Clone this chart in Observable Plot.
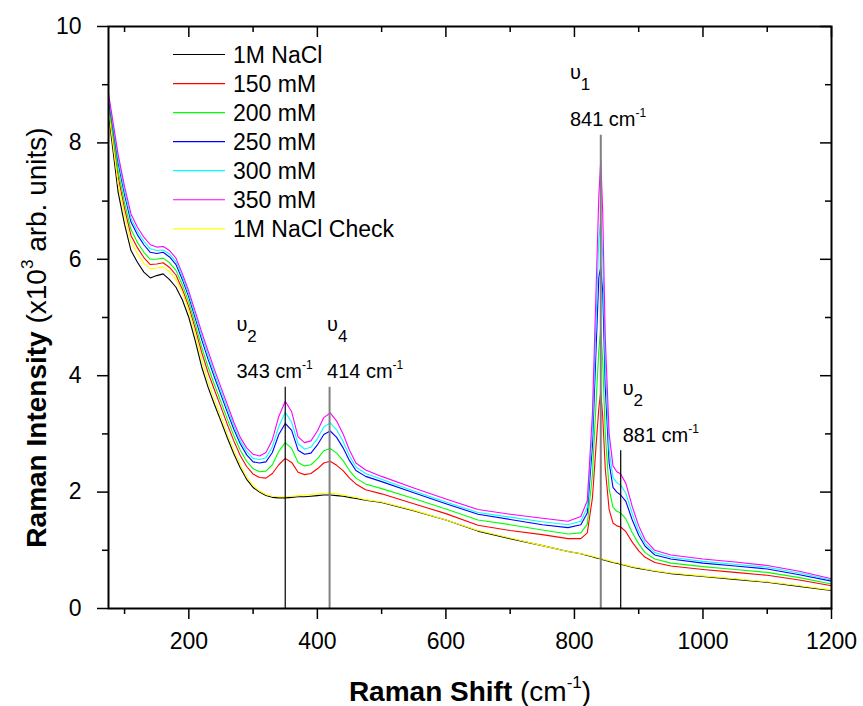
<!DOCTYPE html>
<html><head><meta charset="utf-8">
<script src="https://cdn.jsdelivr.net/npm/d3@7"></script>
<script src="https://cdn.jsdelivr.net/npm/@observablehq/plot@0.6"></script>
<style>body{margin:0;background:#fff} svg text{white-space:pre}</style>
</head><body><div id="chart"></div>
<script>
// Raman shift (cm-1)
const shift = [75, 80, 90, 100, 110, 120, 130, 140, 150, 160,
 170, 180, 190, 200, 210, 220, 230, 240, 250, 260,
 270, 280, 290, 300, 310, 320, 330, 340, 350, 360,
 370, 380, 390, 400, 410, 420, 430, 440, 450, 460,
 475, 500, 550, 600, 650, 700, 750, 790, 810, 820,
 828, 834, 838, 841, 844, 848, 854, 860, 866, 872,
 880, 890, 900, 910, 925, 950, 1000, 1050, 1100, 1150,
 1200];
// Raman intensity (x10^3 arb. units)
const nacl = [8.50, 8.05, 7.15, 6.60, 6.15, 5.95, 5.78, 5.68, 5.72, 5.75,
 5.65, 5.52, 5.30, 5.00, 4.60, 4.15, 3.80, 3.50, 3.22, 2.93,
 2.66, 2.42, 2.22, 2.08, 2.00, 1.94, 1.91, 1.90, 1.90, 1.91,
 1.92, 1.92, 1.93, 1.94, 1.95, 1.95, 1.94, 1.93, 1.91, 1.89,
 1.86, 1.82, 1.68, 1.52, 1.33, 1.20, 1.08, 0.98, 0.94, 0.91,
 0.89, 0.87, 0.86, 0.85, 0.84, 0.83, 0.81, 0.79, 0.78, 0.76,
 0.74, 0.71, 0.69, 0.67, 0.64, 0.60, 0.55, 0.50, 0.45, 0.38,
 0.31];
const mM150 = [8.64, 8.23, 7.42, 6.87, 6.41, 6.20, 6.03, 5.91, 5.92, 5.94,
 5.86, 5.73, 5.48, 5.18, 4.81, 4.40, 4.05, 3.75, 3.46, 3.16,
 2.88, 2.63, 2.44, 2.31, 2.25, 2.24, 2.32, 2.47, 2.58, 2.51,
 2.34, 2.30, 2.32, 2.40, 2.50, 2.53, 2.46, 2.37, 2.24, 2.14,
 2.04, 1.97, 1.80, 1.63, 1.43, 1.34, 1.27, 1.20, 1.20, 1.30,
 1.90, 2.85, 3.45, 3.73, 3.30, 2.40, 1.70, 1.47, 1.42, 1.40,
 1.32, 1.14, 0.99, 0.88, 0.79, 0.73, 0.67, 0.62, 0.57, 0.49,
 0.39];
const mM200 = [8.70, 8.31, 7.52, 6.97, 6.51, 6.29, 6.12, 6.00, 6.00, 6.02,
 5.94, 5.81, 5.56, 5.26, 4.89, 4.49, 4.15, 3.84, 3.55, 3.25,
 2.97, 2.72, 2.53, 2.40, 2.35, 2.36, 2.47, 2.70, 2.85, 2.75,
 2.51, 2.45, 2.47, 2.57, 2.71, 2.75, 2.67, 2.54, 2.37, 2.24,
 2.14, 2.06, 1.89, 1.71, 1.52, 1.44, 1.35, 1.28, 1.30, 1.45,
 2.30, 3.60, 4.45, 4.81, 4.25, 3.00, 2.05, 1.74, 1.67, 1.64,
 1.54, 1.30, 1.11, 0.96, 0.85, 0.78, 0.72, 0.67, 0.62, 0.53,
 0.42];
const mM250 = [8.77, 8.40, 7.66, 7.11, 6.64, 6.42, 6.25, 6.12, 6.10, 6.12,
 6.04, 5.91, 5.65, 5.35, 4.99, 4.62, 4.28, 3.97, 3.67, 3.37,
 3.08, 2.83, 2.64, 2.52, 2.50, 2.52, 2.68, 2.99, 3.18, 3.06,
 2.72, 2.65, 2.67, 2.81, 2.99, 3.05, 2.94, 2.76, 2.54, 2.37,
 2.27, 2.18, 1.99, 1.80, 1.62, 1.53, 1.44, 1.39, 1.44, 1.64,
 2.80, 4.55, 5.70, 5.86, 5.45, 3.80, 2.50, 2.08, 2.00, 1.95,
 1.84, 1.52, 1.26, 1.07, 0.92, 0.85, 0.78, 0.73, 0.68, 0.58,
 0.47];
const mM300 = [8.81, 8.45, 7.72, 7.17, 6.70, 6.48, 6.31, 6.18, 6.15, 6.16,
 6.09, 5.96, 5.70, 5.40, 5.04, 4.68, 4.35, 4.03, 3.73, 3.43,
 3.14, 2.88, 2.70, 2.58, 2.56, 2.59, 2.78, 3.13, 3.37, 3.20,
 2.83, 2.74, 2.77, 2.92, 3.12, 3.19, 3.07, 2.87, 2.62, 2.43,
 2.32, 2.22, 2.02, 1.83, 1.65, 1.57, 1.49, 1.44, 1.50, 1.74,
 3.05, 5.05, 6.35, 6.68, 6.05, 4.20, 2.72, 2.25, 2.16, 2.12,
 1.98, 1.63, 1.33, 1.12, 0.96, 0.88, 0.81, 0.76, 0.71, 0.61,
 0.49];
const mM350 = [8.85, 8.50, 7.80, 7.25, 6.78, 6.55, 6.38, 6.25, 6.21, 6.22,
 6.15, 6.02, 5.75, 5.45, 5.10, 4.75, 4.42, 4.10, 3.80, 3.50,
 3.20, 2.94, 2.76, 2.65, 2.62, 2.68, 2.90, 3.30, 3.56, 3.38,
 2.95, 2.85, 2.88, 3.05, 3.28, 3.36, 3.22, 3.00, 2.72, 2.50,
 2.38, 2.27, 2.07, 1.88, 1.70, 1.62, 1.55, 1.50, 1.58, 1.85,
 3.35, 5.60, 7.10, 7.72, 6.80, 4.65, 3.00, 2.45, 2.35, 2.31,
 2.15, 1.75, 1.42, 1.18, 1.00, 0.92, 0.85, 0.80, 0.74, 0.64,
 0.51];
const naclCheck = [8.55, 8.15, 7.30, 6.75, 6.30, 6.10, 5.93, 5.84, 5.85, 5.87,
 5.79, 5.65, 5.43, 5.12, 4.72, 4.27, 3.90, 3.59, 3.30, 3.00,
 2.72, 2.47, 2.26, 2.11, 2.02, 1.96, 1.93, 1.92, 1.92, 1.93,
 1.94, 1.95, 1.96, 1.97, 1.98, 1.98, 1.97, 1.95, 1.93, 1.91,
 1.87, 1.83, 1.69, 1.52, 1.34, 1.21, 1.08, 0.98, 0.94, 0.92,
 0.90, 0.88, 0.87, 0.86, 0.85, 0.84, 0.82, 0.80, 0.79, 0.77,
 0.75, 0.72, 0.70, 0.68, 0.65, 0.61, 0.56, 0.51, 0.46, 0.39,
 0.32];

const seriesNames = ["1M NaCl", "150 mM", "200 mM", "250 mM", "300 mM", "350 mM", "1M NaCl Check"];
const seriesColors = ["#000000", "#ff0000", "#00ff00", "#0000ff", "#00ffff", "#ff00ff", "#ffff00"];
const seriesValues = [nacl, mM150, mM200, mM250, mM300, mM350, naclCheck];

// band annotations
const bandShift = [350, 419, 841, 872];
const bandTop = [3.8, 3.8, 8.13, 2.71];
const bandLabel = ["343", "414", "841", "881"];
const bandMode = ["2", "4", "1", "2"];
const bandLabelX = [274, 415, 793, 875];
const bandLineColor = ["#000000", "#808080", "#808080", "#000000"];
const bandLineWidth = [1.2, 2, 2, 1.2];

const xMajor = [200, 400, 600, 800, 1000, 1200];
const xMinor = [100, 300, 500, 700, 900, 1100];
const yMajor = [0, 2, 4, 6, 8, 10];
const yMinor = [1, 3, 5, 7, 9];

const xTitle = "Raman Shift (cm-1)";
const yTitle = "Raman Intensity (x10³ arb. units)";

const rows = seriesNames.flatMap((name, k) => shift.map((x, i) => ({name, x, y: seriesValues[k][i]})));
const bandIdx = bandShift.map((_, i) => i);

const W = 863, H = 706, mL = 108, mR = 32, mT = 26, mB = 98;
const frameW = W - mL - mR, frameH = H - mT - mB;
const FONT = "'Liberation Sans', Arial, Helvetica, sans-serif";

const plot = Plot.plot({
  width: W, height: H,
  marginLeft: mL, marginRight: mR, marginTop: mT, marginBottom: mB,
  style: {fontFamily: FONT, fontSize: "23px", background: "#fff", color: "#000"},
  x: {domain: [75, 1200]},
  y: {domain: [0, 10]},
  color: {domain: seriesNames, range: seriesColors},
  marks: [
    Plot.line(rows, {x: "x", y: "y", z: "name", stroke: "name", strokeWidth: 1.1}),
    ...bandIdx.map(i => Plot.ruleX([i], {x: j => bandShift[j], y1: 0, y2: j => bandTop[j], stroke: bandLineColor[i], strokeWidth: bandLineWidth[i]})),
    Plot.text(bandIdx, {x: i => bandLabelX[i], y: i => bandTop[i], text: i => `${bandLabel[i]} cm-1`, dy: -9, lineAnchor: "bottom", textAnchor: "start", fontSize: 20}),
    Plot.text(bandIdx, {x: i => bandLabelX[i], y: i => bandTop[i], text: i => `υ${bandMode[i]}`, dy: -56, lineAnchor: "bottom", textAnchor: "start", fontSize: 20}),
    Plot.axisX(xMajor, {anchor: "bottom", tickSize: 11, tickPadding: 13, strokeWidth: 1.5, fontSize: 23, label: null, tickFormat: d => String(d)}),
    Plot.axisX(xMinor, {anchor: "bottom", tickSize: 6, strokeWidth: 1.5, label: null, tickFormat: () => ""}),
    Plot.axisY(yMajor, {anchor: "left", tickSize: 11, tickPadding: 16, strokeWidth: 1.5, fontSize: 23, label: null, tickFormat: d => String(d)}),
    Plot.axisY(yMinor, {anchor: "left", tickSize: 6, strokeWidth: 1.5, label: null, tickFormat: () => ""}),
    Plot.tickX(xMajor, {x: d => d, insetBottom: frameH - 11, strokeWidth: 1.5}),
    Plot.tickX(xMinor, {x: d => d, insetBottom: frameH - 6, strokeWidth: 1.5}),
    Plot.tickY(yMajor, {y: d => d, insetLeft: frameW - 11, strokeWidth: 1.5}),
    Plot.tickY(yMinor, {y: d => d, insetLeft: frameW - 6, strokeWidth: 1.5}),
    Plot.frame({strokeWidth: 2}),
    Plot.text([xTitle], {frameAnchor: "bottom", dy: 92, lineAnchor: "bottom", textAnchor: "middle", fontSize: 28}),
    Plot.text([yTitle], {frameAnchor: "left", dx: -63, dy: 20, rotate: -90, lineAnchor: "bottom", textAnchor: "middle", fontSize: 28})
  ]
});

// rich text (bold, superscripts, subscripts)
const rich = new Map([
  [xTitle, [{t: "Raman Shift", w: "bold"}, {t: " (cm"}, {t: "-1", size: 17, dy: -13}, {t: ")", dy: 13}]],
  [yTitle, [{t: "Raman Intensity", w: "bold"}, {t: " (x10"}, {t: "3", size: 17, dy: -13}, {t: " arb. units)", dy: 13}]]
]);
bandIdx.forEach(i => {
  rich.set(`${bandLabel[i]} cm-1`, [{t: `${bandLabel[i]} cm`}, {t: "-1", size: 12, dy: -9}]);
  rich.set(`υ${bandMode[i]}`, [{t: "υ"}, {t: bandMode[i], size: 17, dy: 11}]);
});
const svgNS = "http://www.w3.org/2000/svg";
plot.querySelectorAll("text").forEach(el => {
  const parts = rich.get(el.textContent);
  if (!parts) return;
  while (el.firstChild) el.removeChild(el.firstChild);
  parts.forEach(p => {
    const ts = document.createElementNS(svgNS, "tspan");
    ts.textContent = p.t;
    if (p.w) ts.setAttribute("font-weight", p.w);
    if (p.size) ts.setAttribute("font-size", p.size);
    if (p.dy) ts.setAttribute("dy", p.dy);
    el.appendChild(ts);
  });
});

// legend inside the frame
const lg = d3.select(plot).append("g").attr("font-family", FONT).attr("font-size", 23).attr("text-anchor", "start");
seriesNames.forEach((name, i) => {
  const y = 54.5 + 29.05 * i;
  lg.append("line").attr("x1", 173).attr("x2", 225).attr("y1", y).attr("y2", y)
    .attr("stroke", seriesColors[i]).attr("stroke-width", 1.2);
  lg.append("text").attr("x", 233).attr("y", y).attr("dy", "0.36em").attr("fill", "#000").text(name);
});

document.getElementById("chart").appendChild(plot);
</script></body></html>
